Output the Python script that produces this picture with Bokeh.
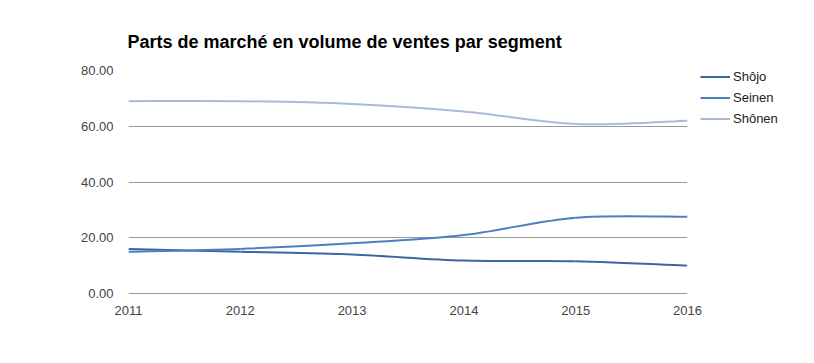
from bokeh.plotting import figure
from bokeh.models import Legend, LegendItem, FixedTicker, NumeralTickFormatter, Range1d, Title
from bokeh.embed import file_html
from bokeh.resources import INLINE

years = [2011, 2012, 2013, 2014, 2015, 2016]
shojo = [16.0, 15.0, 14.0, 11.8, 11.6, 10.0]
seinen = [15.0, 16.0, 18.0, 21.0, 27.2, 27.5]
shonen = [69.0, 69.0, 68.0, 65.3, 60.8, 62.0]
series_names = ["Shôjo", "Seinen", "Shônen"]
colors = ["#3a66a2", "#4d7fbf", "#a9badd"]
y_ticks = [0, 20, 40, 60, 80]

FONT = "Liberation Sans"

p = figure(frame_width=559, frame_height=223, output_backend="svg", toolbar_location=None,
           x_range=Range1d(2011, 2016), y_range=Range1d(0, 80),
           min_border_left=128, min_border_right=10, min_border_top=70, min_border_bottom=54)
p.outline_line_color = None
p.background_fill_color = "white"
p.border_fill_color = "white"

# title
t = Title(text="Parts de marché en volume de ventes par segment", text_font=FONT,
          text_font_size="18px", text_font_style="bold", text_color="#000000",
          offset=-1, standoff=37)
p.add_layout(t, "above")

# axes
p.xaxis.ticker = FixedTicker(ticks=years)
p.xaxis.axis_line_color = None
p.xaxis.major_tick_line_color = None
p.xaxis.minor_tick_line_color = None
p.xaxis.major_label_text_font = FONT
p.xaxis.major_label_text_font_size = "13px"
p.xaxis.major_label_text_color = "#444444"
p.xaxis.major_label_standoff = 6

p.yaxis.ticker = FixedTicker(ticks=y_ticks)
p.yaxis.formatter = NumeralTickFormatter(format="0.00")
p.yaxis.axis_line_color = None
p.yaxis.major_tick_line_color = None
p.yaxis.minor_tick_line_color = None
p.yaxis.major_label_text_font = FONT
p.yaxis.major_label_text_font_size = "13px"
p.yaxis.major_label_text_color = "#444444"
p.yaxis.major_label_standoff = 9

p.xgrid.grid_line_color = None
p.ygrid.ticker = FixedTicker(ticks=[20, 40, 60, 80])
p.ygrid.grid_line_color = "#999999"
p.ygrid.grid_line_width = 1

# baseline
p.line(x=[years[0], years[-1]], y=[0, 0], line_color="#333333", line_width=1)


def smooth_segments(xs, ys, k=1/6.0):
    n = len(xs)
    out = dict(x0=[], y0=[], x1=[], y1=[], cx0=[], cy0=[], cx1=[], cy1=[])
    for i in range(n - 1):
        im1 = max(i - 1, 0)
        ip2 = min(i + 2, n - 1)
        out["x0"].append(xs[i]); out["y0"].append(ys[i])
        out["x1"].append(xs[i + 1]); out["y1"].append(ys[i + 1])
        out["cx0"].append(xs[i] + (xs[i + 1] - xs[im1]) * k)
        out["cy0"].append(ys[i] + (ys[i + 1] - ys[im1]) * k)
        out["cx1"].append(xs[i + 1] - (xs[ip2] - xs[i]) * k)
        out["cy1"].append(ys[i + 1] - (ys[ip2] - ys[i]) * k)
    return out


items = []
for name, vals, col in zip(series_names, [shojo, seinen, shonen], colors):
    seg = smooth_segments(years, vals)
    r = p.bezier(line_color=col, line_width=2, **seg)
    items.append(LegendItem(label=name, renderers=[r]))

legend = Legend(items=items, location="top_left", orientation="vertical",
                label_text_font=FONT, label_text_font_size="13px", label_text_color="#222222",
                glyph_width=30, glyph_height=15, label_standoff=3, spacing=6,
                padding=0, margin=0, border_line_color=None, background_fill_alpha=0,
                label_height=15)
p.add_layout(legend, "right")
legend.location = (13, 167)

open("out.html", "w").write(file_html(p, INLINE))
